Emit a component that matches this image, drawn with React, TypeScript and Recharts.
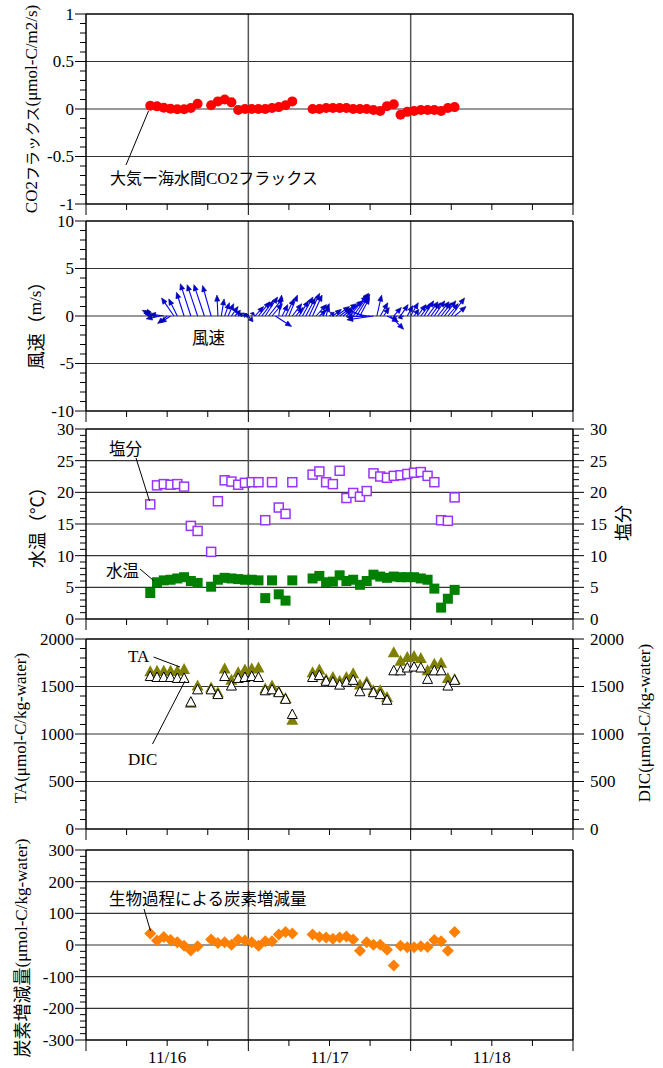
import React from "react";
import { ComposedChart, Scatter, XAxis, YAxis, ReferenceLine } from "recharts";

// sample times, hours after 11/16 00:00
const hours = [
  9.5, 10.5, 11.5, 12.5, 13.5, 14.5, 15.5, 16.5,
  18.5, 19.5, 20.5, 21.5, 22.5, 23.5, 24.5, 25.5, 26.5, 27.5, 28.5, 29.5, 30.5,
  33.5, 34.5, 35.5, 36.5, 37.5, 38.5, 39.5, 40.5, 41.5, 42.5, 43.5, 44.5, 45.5,
  46.5, 47.5, 48.5, 49.5, 50.5, 51.5, 52.5, 53.5, 54.5,
];

const co2Flux = [
  0.035, 0.028, 0.014, 0.003, -0.003, -0.003, 0.01, 0.056,
  0.04, 0.08, 0.1, 0.07, -0.01, 0.0, 0.0, 0.0, 0.0, 0.01, 0.02, 0.04, 0.08,
  0.0, 0.0, 0.01, 0.01, 0.01, 0.01, 0.0, 0.0, 0.0, -0.01, -0.02, 0.03, 0.05,
  -0.06, -0.03, -0.02, -0.01, -0.01, -0.01, -0.02, 0.01, 0.02,
];

const salinity = [
  18.1, 21.1, 21.3, 21.2, 21.3, 20.9, 14.7, 13.9,
  10.6, 18.6, 21.9, 21.7, 21.2, 21.5, 21.6, 21.6, 15.6, 21.6, 17.6, 16.6, 21.6,
  22.8, 23.3, 21.6, 21.3, 23.4, 19.1, 19.9, 19.3, 20.2, 23.0, 22.5, 22.3, 22.6,
  22.7, 22.9, 23.1, 23.2, 22.6, 21.6, 15.6, 15.5, 19.2,
];

const waterTemp = [
  4.1, 5.8, 6.1, 6.2, 6.4, 6.6, 6.0, 5.7,
  5.1, 6.2, 6.5, 6.4, 6.3, 6.2, 6.2, 6.1, 3.3, 6.1, 3.9, 2.9, 6.1,
  6.4, 6.8, 5.8, 5.9, 6.9, 6.0, 6.2, 5.4, 6.0, 7.0, 6.7, 6.5, 6.7,
  6.6, 6.6, 6.6, 6.4, 6.2, 4.8, 1.8, 3.2, 4.6,
];

const ta = [
  1660, 1665, 1665, 1665, 1665, 1685, 1330, 1510,
  1490, 1440, 1690, 1570, 1650, 1680, 1690, 1700, 1480, 1510, 1450, 1380, 1150,
  1650, 1680, 1580, 1600, 1560, 1600, 1640, 1520, 1550, 1460, 1460, 1390, 1860,
  1770, 1810, 1820, 1800, 1670, 1740, 1750, 1590, 1580,
];

const dic = [
  1610, 1600, 1600, 1600, 1590, 1590, 1340, 1470,
  1470, 1420, 1610, 1510, 1590, 1600, 1610, 1600, 1460, 1470, 1440, 1370, 1210,
  1600, 1620, 1560, 1550, 1520, 1550, 1570, 1450, 1520, 1440, 1420, 1360, 1670,
  1670, 1700, 1710, 1700, 1580, 1670, 1670, 1510, 1570,
];

const carbonChange = [
  36, 14, 25, 16, 9, -2, -17, -4,
  17, 6, 9, 1, 17, 14, 9, -2, 12, 12, 33, 41, 36,
  33, 25, 24, 20, 24, 27, 17, -18, 9, 1, 1, -15, -65,
  -2, -7, -7, -4, -6, 16, 12, -18, 41,
];

// wind vectors (m/s)
const windHours = [
  9.5, 10, 10.5, 11, 11.5, 12, 12.5, 13, 13.5, 14.5, 15.5, 16.5, 17.5, 18.5, 19.5,
  20, 20.5, 21, 21.5, 22, 22.5, 23, 23.5, 24, 24.5, 25, 25.5, 26, 26.5, 27, 27.5,
  28, 28.5, 29, 29.5, 30, 30.5, 31, 31.5, 32, 32.5, 33, 33.5, 34, 34.5, 35, 35.5,
  36, 36.5, 37, 37.5, 38, 38.5, 39, 39.5, 40, 40.5, 41, 41.5, 42, 42.5, 43, 43.5,
  44, 44.5, 45, 45.5, 46, 46.5, 47, 47.5, 48, 48.5, 49, 49.5, 50, 50.5, 51, 51.5,
  52, 52.5, 53, 53.5, 54, 54.5,
];
const windU = [
  -0.3, -1.2, -1.4, -1.5, -1.5, -1.0, -1.1, -1.3, -0.9, -0.8, -1.1, -1.1, -1.1, -0.9, -0.1,
  0.3, 0.5, 0.6, 0.7, 0.6, 0.5, 0.6, 0.4, 0.5, 0.2, 0.9, 1.2, 1.2, 1.3, 1.5, 1.1,
  1.7, 0.3, 0.6, 0.9, 0.9, 1.0, 0.8, 1.0, 1.1, 1.0, 1.1, 1.0, 1.1, 0.7, 0.7, 0.3,
  0.5, 0.9, 1.4, 1.8, 2.1, 2.2, 2.0, 1.6, 1.4, 1.0, -1.9, -2.3, -2.5, -2.8, 0.5, 0.8,
  0.6, 1.2, 1.4, 0.8, -0.4, 0.8, -0.6, 0.6, 0.8, 0.5, 0.9, 1.0, 1.0, 1.1, 1.0, 1.1,
  1.2, 1.1, 1.2, 1.1, 1.4, 1.2,
];
const windV = [
  0.7, 0.6, 0.3, -0.3, 0.2, -0.8, -0.7, 1.9, 1.8, 2.5, 3.4, 3.3, 3.3, 3.2, 2.2,
  1.8, 1.4, 1.3, 1.0, 0.6, 0.3, 0.2, 0.1, -0.6, 0.4, 1.0, 1.5, 1.6, 2.0, 1.9, 1.3,
  -1.1, 2.2, 1.2, 1.8, 2.2, 1.3, 0.9, 1.6, 2.0, 1.9, 2.4, 2.2, 1.2, 0.6, 1.3, 1.1,
  0.4, 0.7, 1.0, 1.3, 1.6, 2.1, 2.4, 2.2, 2.3, 1.9, 0.8, 0.5, -0.1, -0.4, 2.2, 1.4,
  0.9, -0.6, -1.4, 0.9, -0.3, 1.2, -0.2, 1.1, 1.4, 0.7, 1.2, 1.3, 1.6, 1.5, 1.4, 1.6,
  1.5, 1.4, 1.6, 1.3, 1.9, 1.0,
];

const xTickHours = [0, 6, 12, 18, 24, 30, 36, 42, 48, 54, 60, 66, 72];
const xLabelHours = [12, 36, 60];
const xLabelText = ["11/16", "11/17", "11/18"];

const PLOT_W = 487;
const PLOT_H = 190;
const X_MAX = 72;
const WIND_RANGE = 20;
// hours of x per m/s so that the arrows keep their true direction
const WIND_K = (X_MAX / PLOT_W) * (PLOT_H / WIND_RANGE);

const serif = "Liberation Serif";
const jp = "Noto Sans CJK JP";

const steps = (lo: number, hi: number, step: number) => {
  const n = Math.round((hi - lo) / step);
  return Array.from({ length: n + 1 }, (_, i) => +(lo + i * step).toFixed(6));
};

const pts = (vals: number[]) => hours.map((t, i) => ({ t, v: vals[i] }));

const serifStyle = { fontFamily: serif, fontSize: 17 };

const makeYTick = (major: number, side: "left" | "right") => (p: any) => {
  const { x, y, payload } = p;
  const v = payload.value;
  const isMajor = Math.abs(v / major - Math.round(v / major)) < 1e-6;
  const dir = side === "left" ? -1 : 1;
  const len = isMajor ? 11 : 6;
  return (
    <g>
      <line x1={x} x2={x + dir * len} y1={y} y2={y} stroke="#000" strokeWidth={1} />
      {isMajor && (
        <text
          x={side === "left" ? x - 12 : x + 17}
          y={y}
          dy="0.35em"
          textAnchor={side === "left" ? "end" : "start"}
          style={serifStyle}
          fill="#000"
        >
          {String(v)}
        </text>
      )}
    </g>
  );
};

const makeXTick = (showLabels: boolean) => (p: any) => {
  const { x, y, payload } = p;
  const v = payload.value;
  const long = v % 24 === 0;
  const li = xLabelHours.indexOf(v);
  return (
    <g>
      <line x1={x} x2={x} y1={y} y2={y + (long ? 11 : 6)} stroke="#000" strokeWidth={1} />
      {showLabels && li >= 0 && (
        <text x={x} y={y + 23} textAnchor="middle" style={serifStyle} fill="#000">
          {xLabelText[li]}
        </text>
      )}
    </g>
  );
};

const Arrow = (p: any) => {
  const { x1, y1, x2, y2 } = p;
  const dx = x2 - x1;
  const dy = y2 - y1;
  const len = Math.hypot(dx, dy) || 1;
  const ux = dx / len;
  const uy = dy / len;
  const hl = Math.min(6, len * 0.6);
  const hw = 2.5;
  const bx = x2 - ux * hl;
  const by = y2 - uy * hl;
  return (
    <g>
      <line x1={x1} y1={y1} x2={bx} y2={by} stroke="#0000ff" strokeWidth={1.1} />
      <polygon
        points={`${x2},${y2} ${bx - uy * hw},${by + ux * hw} ${bx + uy * hw},${by - ux * hw}`}
        fill="#0000dd"
        stroke="#000080"
        strokeWidth={0.6}
      />
    </g>
  );
};

const RedDot = (p: any) => <circle cx={p.cx} cy={p.cy} r={5} fill="#ff0000" />;
const OpenSquare = (p: any) => (
  <rect x={p.cx - 4.5} y={p.cy - 4.5} width={9} height={9} fill="#fff" stroke="#9933ff" strokeWidth={1.5} />
);
const GreenSquare = (p: any) => <rect x={p.cx - 5} y={p.cy - 5} width={10} height={10} fill="#008000" />;
const OliveTri = (p: any) => (
  <polygon points={`${p.cx},${p.cy - 6} ${p.cx - 6},${p.cy + 5} ${p.cx + 6},${p.cy + 5}`} fill="#808000" />
);
const OpenTri = (p: any) => (
  <polygon
    points={`${p.cx},${p.cy - 5} ${p.cx - 5},${p.cy + 4.5} ${p.cx + 5},${p.cy + 4.5}`}
    fill="#fff"
    stroke="#000"
    strokeWidth={1}
  />
);
const Diamond = (p: any) => (
  <polygon points={`${p.cx},${p.cy - 6} ${p.cx + 6},${p.cy} ${p.cx},${p.cy + 6} ${p.cx - 6},${p.cy}`} fill="#ff8000" />
);
const Nothing = () => <g />;

interface PanelProps {
  top: number;
  domain: [number, number];
  major: number;
  minor: number;
  right?: boolean;
  xLabels?: boolean;
  children?: React.ReactNode;
}

function Panel({ top, domain, major, minor, right, xLabels, children }: PanelProps) {
  const xh = xLabels ? 30 : 14;
  const ticks = steps(domain[0], domain[1], minor);
  const grid = steps(domain[0], domain[1], major).slice(1, -1);
  return (
    <div style={{ position: "absolute", left: 0, top: top - 10 }}>
      <ComposedChart
        width={663}
        height={10 + PLOT_H + xh}
        margin={{ top: 10, right: right ? 0 : 90, bottom: 0, left: 0 }}
      >
        <XAxis
          type="number"
          dataKey="t"
          domain={[0, X_MAX]}
          ticks={xTickHours}
          interval={0}
          tickSize={0}
          tickMargin={0}
          height={xh}
          allowDataOverflow
          axisLine={{ stroke: "#000", strokeWidth: 1.5 }}
          tickLine={false}
          tick={makeXTick(!!xLabels)}
        />
        <YAxis
          yAxisId="left"
          type="number"
          dataKey="v"
          domain={domain}
          ticks={ticks}
          interval={0}
          tickSize={0}
          tickMargin={0}
          width={86}
          allowDataOverflow
          axisLine={{ stroke: "#000", strokeWidth: 1.5 }}
          tickLine={false}
          tick={makeYTick(major, "left")}
        />
        {right && (
          <YAxis
            yAxisId="right"
            orientation="right"
            type="number"
            dataKey="v"
            domain={domain}
            ticks={ticks}
            interval={0}
            tickSize={0}
            tickMargin={0}
            width={90}
            allowDataOverflow
            axisLine={{ stroke: "#000", strokeWidth: 1.5 }}
            tickLine={false}
            tick={makeYTick(major, "right")}
          />
        )}
        {grid.map((g) => (
          <ReferenceLine key={"g" + g} yAxisId="left" y={g} stroke="#333" strokeWidth={1.2} />
        ))}
        <ReferenceLine yAxisId="left" x={24} stroke="#555" strokeWidth={1.5} />
        <ReferenceLine yAxisId="left" x={48} stroke="#555" strokeWidth={1.5} />
        <ReferenceLine yAxisId="left" y={domain[1]} stroke="#000" strokeWidth={1.5} />
        {!right && <ReferenceLine yAxisId="left" x={X_MAX} stroke="#000" strokeWidth={1.5} />}
        {children}
      </ComposedChart>
    </div>
  );
}

export default function App() {
  const windBase = windHours.map((t) => ({ t, v: 0 }));
  return (
    <div style={{ position: "absolute", left: 0, top: 0, width: 663, height: 1068, background: "#fff" }}>
      <Panel top={14} domain={[-1, 1]} major={0.5} minor={0.1}>
        <Scatter yAxisId="left" data={pts(co2Flux)} dataKey="v" shape={RedDot} isAnimationActive={false} />
      </Panel>

      <Panel top={221} domain={[-10, 10]} major={5} minor={1}>
        <Scatter yAxisId="left" data={windBase} dataKey="v" shape={Nothing} isAnimationActive={false} />
        {windHours.map((t, i) => (
          <ReferenceLine
            key={"w" + i}
            yAxisId="left"
            ifOverflow="visible"
            segment={[
              { x: t, y: 0 },
              { x: t + windU[i] * WIND_K, y: windV[i] },
            ]}
            shape={Arrow}
          />
        ))}
      </Panel>

      <Panel top={429} domain={[0, 30]} major={5} minor={1} right>
        <Scatter yAxisId="right" data={pts(salinity)} dataKey="v" shape={OpenSquare} isAnimationActive={false} />
        <Scatter yAxisId="left" data={pts(waterTemp)} dataKey="v" shape={GreenSquare} isAnimationActive={false} />
      </Panel>

      <Panel top={639} domain={[0, 2000]} major={500} minor={100} right>
        <Scatter yAxisId="left" data={pts(ta)} dataKey="v" shape={OliveTri} isAnimationActive={false} />
        <Scatter yAxisId="right" data={pts(dic)} dataKey="v" shape={OpenTri} isAnimationActive={false} />
      </Panel>

      <Panel top={850} domain={[-300, 300]} major={100} minor={20} xLabels>
        <Scatter yAxisId="left" data={pts(carbonChange)} dataKey="v" shape={Diamond} isAnimationActive={false} />
      </Panel>

      <svg
        width={663}
        height={1068}
        style={{ position: "absolute", left: 0, top: 0, pointerEvents: "none" }}
      >
        {/* axis titles */}
        <text transform="translate(31,109) rotate(-90)" textAnchor="middle" dominantBaseline="central" fill="#000">
          <tspan style={{ fontFamily: serif, fontSize: 17 }}>CO2</tspan>
          <tspan style={{ fontFamily: jp, fontSize: 15 }}>フラックス</tspan>
          <tspan style={{ fontFamily: serif, fontSize: 17 }}>(μmol-C/m2/s)</tspan>
        </text>
        <text transform="translate(35,321) rotate(-90)" textAnchor="middle" dominantBaseline="central" fill="#000">
          <tspan style={{ fontFamily: jp, fontSize: 18 }}>風速（</tspan>
          <tspan style={{ fontFamily: serif, fontSize: 17 }}>m/s</tspan>
          <tspan style={{ fontFamily: jp, fontSize: 18 }}>）</tspan>
        </text>
        <text transform="translate(36,523) rotate(-90)" textAnchor="middle" dominantBaseline="central" fill="#000">
          <tspan style={{ fontFamily: jp, fontSize: 18 }}>水温（°C）</tspan>
        </text>
        <text transform="translate(622,523) rotate(-90)" textAnchor="middle" dominantBaseline="central" fill="#000">
          <tspan style={{ fontFamily: jp, fontSize: 18 }}>塩分</tspan>
        </text>
        <text transform="translate(20,728) rotate(-90)" textAnchor="middle" dominantBaseline="central" fill="#000">
          <tspan style={{ fontFamily: serif, fontSize: 17 }}>TA(μmol-C/kg-water)</tspan>
        </text>
        <text transform="translate(644,723) rotate(-90)" textAnchor="middle" dominantBaseline="central" fill="#000">
          <tspan style={{ fontFamily: serif, fontSize: 17 }}>DIC(μmol-C/kg-water)</tspan>
        </text>
        <text transform="translate(21,948) rotate(-90)" textAnchor="middle" dominantBaseline="central" fill="#000">
          <tspan style={{ fontFamily: jp, fontSize: 18 }}>炭素増減量</tspan>
          <tspan style={{ fontFamily: serif, fontSize: 17 }}>(μmol-C/kg-water)</tspan>
        </text>

        {/* annotations */}
        <line x1={148.5} y1={111} x2={126} y2={165} stroke="#000" strokeWidth={1} />
        <text x={110} y={184} fill="#000">
          <tspan style={{ fontFamily: jp, fontSize: 16 }}>大気ー海水間</tspan>
          <tspan style={{ fontFamily: serif, fontSize: 17 }}>CO2</tspan>
          <tspan style={{ fontFamily: jp, fontSize: 16 }}>フラックス</tspan>
        </text>
        <text x={192} y={344} style={{ fontFamily: jp, fontSize: 16.5 }} fill="#000">風速</text>
        <line x1={136} y1={458} x2={149.5} y2={501} stroke="#000" strokeWidth={1} />
        <text x={109} y={455} style={{ fontFamily: jp, fontSize: 16.5 }} fill="#000">塩分</text>
        <line x1={140} y1={569} x2={153.5} y2={580.5} stroke="#000" strokeWidth={1} />
        <text x={106} y={577} style={{ fontFamily: jp, fontSize: 16.5 }} fill="#000">水温</text>
        <line x1={153.5} y1={657} x2={180} y2={667} stroke="#000" strokeWidth={1} />
        <text x={128} y={662} style={serifStyle} fill="#000">TA</text>
        <line x1={152.5} y1={744} x2={185} y2={681} stroke="#000" strokeWidth={1} />
        <text x={128} y={765} style={serifStyle} fill="#000">DIC</text>
        <line x1={144} y1={909} x2={150.5} y2={931} stroke="#000" strokeWidth={1} />
        <text x={109} y={905} style={{ fontFamily: jp, fontSize: 16.5 }} fill="#000">生物過程による炭素増減量</text>
      </svg>
    </div>
  );
}
